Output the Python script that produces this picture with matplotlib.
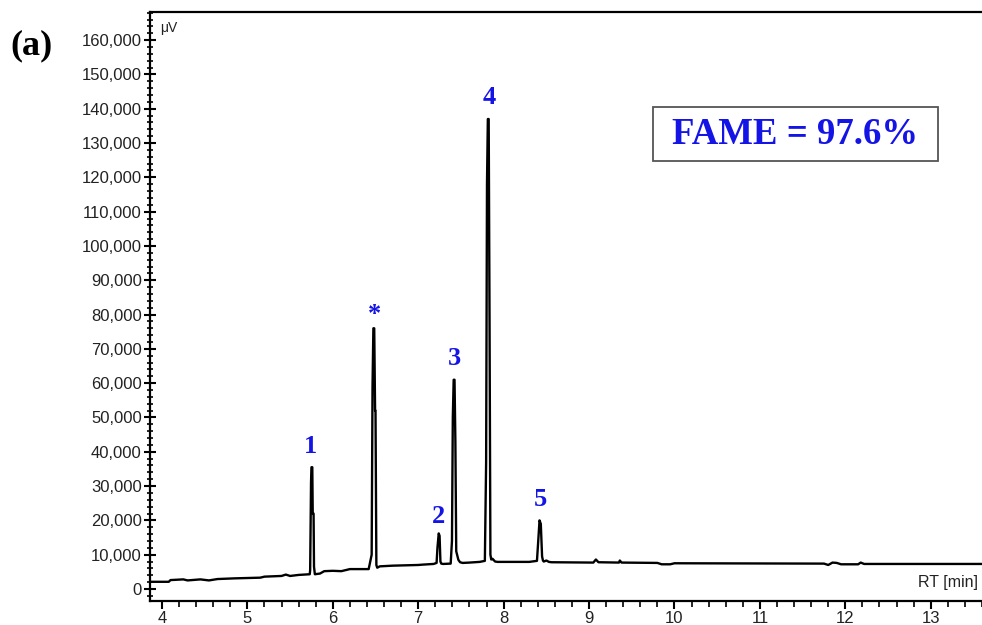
import matplotlib.pyplot as plt
from matplotlib.patches import Rectangle
from matplotlib.ticker import MultipleLocator, FuncFormatter

# trace (RT in min, signal in uV)
rt = [3.86, 4.08, 4.10, 4.25, 4.30, 4.45, 4.55, 4.65, 4.85, 5.00, 5.15, 5.20, 5.40, 5.45, 5.50, 5.60, 5.73,
      5.735, 5.745, 5.75, 5.76, 5.765, 5.775, 5.78, 5.79, 5.85, 5.90, 6.00, 6.10, 6.20, 6.42,
      6.455, 6.465, 6.475, 6.485, 6.495, 6.50, 6.51, 6.52, 6.55, 6.70, 7.00, 7.05, 7.18,
      7.215, 7.225, 7.24, 7.25, 7.26, 7.27, 7.29, 7.38,
      7.395, 7.405, 7.415, 7.425, 7.435, 7.445, 7.455, 7.47, 7.49, 7.52, 7.60, 7.72, 7.78,
      7.795, 7.805, 7.815, 7.825, 7.835, 7.845, 7.855, 7.87, 7.90, 7.93, 8.30, 8.39,
      8.405, 8.42, 8.435, 8.45, 8.46, 8.47, 8.50, 8.53, 8.56, 9.05, 9.08, 9.11, 9.35, 9.36, 9.38,
      9.80, 9.85, 9.95, 10.0, 11.75, 11.80, 11.85, 11.90, 11.95, 12.15, 12.18, 12.22, 13.60]
signal = [2100, 2100, 2600, 2800, 2500, 2800, 2500, 2900, 3100, 3200, 3300, 3600, 3800, 4200, 3800, 4100, 4300,
          5500, 31000, 35500, 35500, 22000, 22000, 6500, 4300, 4500, 5200, 5300, 5200, 5800, 5800,
          10000, 59000, 76000, 76000, 52000, 52000, 7000, 6200, 6600, 6800, 7000, 7100, 7300,
          7600, 12000, 16200, 15500, 8000, 7400, 7300, 7400,
          14000, 50000, 61000, 61000, 43000, 11000, 10000, 8500, 7800, 7600, 7700, 7900, 8200,
          37000, 118000, 137000, 137000, 78000, 10000, 8600, 8800, 8000, 7900, 7900, 8200,
          14000, 20000, 19000, 9500, 8300, 8000, 8300, 7900, 7800, 7700, 8600, 7800, 7700, 8300, 7700,
          7600, 7200, 7200, 7500, 7400, 7000, 7700, 7600, 7200, 7200, 7700, 7300, 7300]

peak_labels = ['1', '*', '2', '3', '4', '5']
label_rt = [5.74, 6.49, 7.24, 7.42, 7.83, 8.43]
label_y = [41400, 80000, 21000, 67300, 143400, 26000]

fame_text = 'FAME = 97.6%'
blue = '#1414e6'

fig = plt.figure(figsize=(9.82, 6.25), dpi=100)
ax = fig.add_axes([150 / 982, 24 / 625, 832 / 982, 589 / 625])

ax.plot(rt, signal, color='black', linewidth=1.7)

ax.set_xlim(3.86, 13.6)
ax.set_ylim(-3500, 168200)

ax.xaxis.set_major_locator(MultipleLocator(1))
ax.xaxis.set_minor_locator(MultipleLocator(0.2))
ax.yaxis.set_major_locator(MultipleLocator(10000))
ax.yaxis.set_minor_locator(MultipleLocator(2000))
ax.yaxis.set_major_formatter(FuncFormatter(lambda v, p: f'{int(v):,}'))
ax.xaxis.set_major_formatter(FuncFormatter(lambda v, p: f'{int(v)}'))

ax.spines['right'].set_visible(False)
for s in ['left', 'top', 'bottom']:
    ax.spines[s].set_linewidth(1.6)

ax.tick_params(axis='x', which='major', direction='out', length=6, width=1.5, pad=1,
               labelsize=12, labelcolor='#222222')
ax.tick_params(axis='x', which='minor', direction='out', length=4, width=1.2)
ax.tick_params(axis='y', which='major', direction='inout', length=8, width=1.5, pad=2,
               labelsize=12, labelcolor='#222222')
ax.tick_params(axis='y', which='minor', direction='inout', length=5, width=1.2)
for lab in ax.get_xticklabels() + ax.get_yticklabels():
    lab.set_family('Liberation Sans')

ax.text(0.012, 0.985, 'μV', transform=ax.transAxes, fontsize=10, family='Liberation Sans',
        color='#222222', va='top', ha='left')
ax.text(978 / 982, 1 - 583 / 625, 'RT [min]', transform=fig.transFigure, fontsize=11.5,
        family='Liberation Sans', color='#222222', va='center', ha='right')

for lab, x, y in zip(peak_labels, label_rt, label_y):
    ax.text(x, y, lab, color=blue, fontsize=19, fontweight='bold', family='Liberation Serif',
            ha='center', va='center')

fig.patches.append(Rectangle((653 / 982, 1 - 161 / 625), 285 / 982, 54 / 625, transform=fig.transFigure,
                             facecolor='white', edgecolor='#555555', linewidth=1.3, zorder=3))
fig.text(795 / 982, 1 - 134 / 625, fame_text, color=blue, fontsize=26.5, fontweight='bold',
         family='Liberation Serif', ha='center', va='center', zorder=4)

fig.text(31 / 982, 1 - 46 / 625, '(a)', fontsize=26, fontweight='bold', family='Liberation Serif',
         ha='center', va='center')

fig.savefig('out.png', dpi=100)
